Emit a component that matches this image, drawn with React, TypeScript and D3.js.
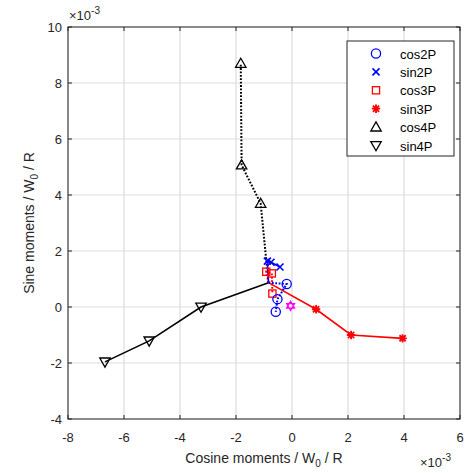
import React from 'react';
import * as d3 from 'd3';

// values in units of 1e-3
const origin: [number, number] = [-0.84, 0.87];
const cos2P: [number, number][] = [[-0.19, 0.82], [-0.52, 0.28], [-0.58, -0.17]];
const sin2P: [number, number][] = [[-0.88, 1.64], [-0.75, 1.6], [-0.43, 1.43]];
const cos3P: [number, number][] = [[-0.92, 1.26], [-0.72, 1.2], [-0.7, 0.48]];
const sin3P: [number, number][] = [[0.86, -0.08], [2.11, -1.0], [3.95, -1.12]];
const cos4P: [number, number][] = [[-1.12, 3.7], [-1.8, 5.07], [-1.83, 8.7]];
const sin4P: [number, number][] = [[-3.25, 0], [-5.1, -1.21], [-6.68, -1.96]];
const extra: [number, number][] = [[-0.05, 0.04]];

const xTicks = [-8, -6, -4, -2, 0, 2, 4, 6];
const yTicks = [-4, -2, 0, 2, 4, 6, 8, 10];
const legendNames = ['cos2P', 'sin2P', 'cos3P', 'sin3P', 'cos4P', 'sin4P'];

const W = 473;
const H = 473;
const L = 68, R = 460, T = 27, B = 419;
const font = 'Liberation Sans, Arial, Helvetica, sans-serif';

type Kind = 'o' | 'x' | 's' | '*' | '^' | 'v' | 'h';

const Marker = ({ kind, x, y, color }: { kind: Kind; x: number; y: number; color: string }) => {
	const sw = 1.3;
	if (kind === 'o') return <circle cx={ x } cy={ y } r={ 4.6 } fill="none" stroke={ color } strokeWidth={ sw }/>;
	if (kind === 's') return <rect x={ x - 3.6 } y={ y - 3.6 } width={ 7.2 } height={ 7.2 } fill="none" stroke={ color } strokeWidth={ sw }/>;
	if (kind === 'x') {
		const s = 3.5;
		return <path d={ `M${ x - s },${ y - s }L${ x + s },${ y + s }M${ x - s },${ y + s }L${ x + s },${ y - s }` } stroke={ color } strokeWidth={ 1.6 }/>;
	}
	if (kind === '*') {
		const s = 4.2, d = 3.1;
		return <path d={ `M${ x - s },${ y }L${ x + s },${ y }M${ x },${ y - s }L${ x },${ y + s }M${ x - d },${ y - d }L${ x + d },${ y + d }M${ x - d },${ y + d }L${ x + d },${ y - d }` } stroke={ color } strokeWidth={ 1.8 }/>;
	}
	if (kind === '^') {
		const s = 5.2;
		return <path d={ `M${ x },${ y - s }L${ x + s },${ y + s * 0.75 }L${ x - s },${ y + s * 0.75 }Z` } fill="none" stroke={ color } strokeWidth={ sw }/>;
	}
	if (kind === 'v') {
		const s = 5.2;
		return <path d={ `M${ x },${ y + s }L${ x + s },${ y - s * 0.75 }L${ x - s },${ y - s * 0.75 }Z` } fill="none" stroke={ color } strokeWidth={ sw }/>;
	}
	const s = 4.6;
	return <path d={ `M${ x },${ y - s }L${ x + s * 0.87 },${ y + s / 2 }L${ x - s * 0.87 },${ y + s / 2 }ZM${ x },${ y + s }L${ x + s * 0.87 },${ y - s / 2 }L${ x - s * 0.87 },${ y - s / 2 }Z` } fill="none" stroke={ color } strokeWidth={ 1.2 }/>;
};

const series: { name: string; data: [number, number][]; color: string; kind: Kind; dash: boolean }[] = [
	{ name: 'sin4P', data: sin4P, color: '#000', kind: 'v', dash: false },
	{ name: 'cos4P', data: cos4P, color: '#000', kind: '^', dash: true },
	{ name: 'sin3P', data: sin3P, color: '#ff0000', kind: '*', dash: false },
	{ name: 'cos3P', data: cos3P, color: '#ff0000', kind: 's', dash: true },
	{ name: 'sin2P', data: sin2P, color: '#0000ff', kind: 'x', dash: false },
	{ name: 'cos2P', data: cos2P, color: '#0000ff', kind: 'o', dash: true },
];

const legendStyle: Record<string, { color: string; kind: Kind }> = {
	cos2P: { color: '#0000ff', kind: 'o' },
	sin2P: { color: '#0000ff', kind: 'x' },
	cos3P: { color: '#ff0000', kind: 's' },
	sin3P: { color: '#ff0000', kind: '*' },
	cos4P: { color: '#000', kind: '^' },
	sin4P: { color: '#000', kind: 'v' },
};

const App = () => {
	const x = d3.scaleLinear().domain([-8, 6]).range([L, R]);
	const y = d3.scaleLinear().domain([-4, 10]).range([B, T]);
	const line = d3.line<[number, number]>().x((d) => x(d[0])).y((d) => y(d[1]));

	return (
		<svg width={ W } height={ H } style={ { position: 'absolute', left: 0, top: 0, background: '#fff' } } fontFamily={ font }>
			<rect x={ L } y={ T } width={ R - L } height={ B - T } fill="#fff"/>
			{ xTicks.map((t) => <line key={ `gx${ t }` } x1={ x(t) } x2={ x(t) } y1={ T } y2={ B } stroke="#dcdcdc" strokeWidth={ 1.2 }/>) }
			{ yTicks.map((t) => <line key={ `gy${ t }` } x1={ L } x2={ R } y1={ y(t) } y2={ y(t) } stroke="#dcdcdc" strokeWidth={ 1.2 }/>) }
			{ series.map((s) => (
				<path key={ `l${ s.name }` } d={ line([origin, ...s.data]) ?? '' } fill="none" stroke={ s.color }
					strokeWidth={ s.dash ? 2 : 1.6 } strokeDasharray={ s.dash ? '1.8 1.6' : undefined }/>
			)) }
			{ series.map((s) => s.data.map((d, i) => (
				<Marker key={ `m${ s.name }${ i }` } kind={ s.kind } x={ x(d[0]) } y={ y(d[1]) } color={ s.color }/>
			))) }
			{ extra.map((d, i) => <Marker key={ `e${ i }` } kind="h" x={ x(d[0]) } y={ y(d[1]) } color="#ff00ff"/>) }
			<rect x={ L } y={ T } width={ R - L } height={ B - T } fill="none" stroke="#262626" strokeWidth={ 1 }/>
			{ xTicks.map((t) => (
				<g key={ `tx${ t }` }>
					<line x1={ x(t) } x2={ x(t) } y1={ B } y2={ B - 4 } stroke="#262626"/>
					<line x1={ x(t) } x2={ x(t) } y1={ T } y2={ T + 4 } stroke="#262626"/>
					<text x={ x(t) } y={ B + 23 } textAnchor="middle" fontSize={ 13 } fill="#262626">{ t }</text>
				</g>
			)) }
			{ yTicks.map((t) => (
				<g key={ `ty${ t }` }>
					<line x1={ L } x2={ L + 4 } y1={ y(t) } y2={ y(t) } stroke="#262626"/>
					<line x1={ R } x2={ R - 4 } y1={ y(t) } y2={ y(t) } stroke="#262626"/>
					<text x={ L - 6 } y={ y(t) + 5 } textAnchor="end" fontSize={ 13 } fill="#262626">{ t }</text>
				</g>
			)) }
			<text x={ 69 } y={ 20 } fontSize={ 13 } fill="#262626">
				{ '\u00d710' }<tspan dy={ -6 } fontSize={ 10 }>-3</tspan>
			</text>
			<text x={ 420 } y={ 467 } fontSize={ 13 } fill="#262626">
				{ '\u00d710' }<tspan dy={ -6 } fontSize={ 10 }>-3</tspan>
			</text>
			<text x={ (L + R) / 2 } y={ 463 } textAnchor="middle" fontSize={ 14 } fill="#262626">
				Cosine moments / W<tspan dy={ 4 } fontSize={ 10 }>0</tspan><tspan dy={ -4 }> / R</tspan>
			</text>
			<text transform={ `translate(34,${ (T + B) / 2 }) rotate(-90)` } textAnchor="middle" fontSize={ 14 } fill="#262626">
				Sine moments / W<tspan dy={ 4 } fontSize={ 10 }>0</tspan><tspan dy={ -4 }> / R</tspan>
			</text>
			<rect x={ 347 } y={ 41 } width={ 107 } height={ 115 } fill="#fff" stroke="#262626" strokeWidth={ 1 }/>
			{ legendNames.map((n, i) => {
				const cy = 53.5 + i * 18.4;
				return (
					<g key={ `lg${ n }` }>
						<Marker kind={ legendStyle[n].kind } x={ 376 } y={ cy } color={ legendStyle[n].color }/>
						<text x={ 400 } y={ cy + 5 } fontSize={ 13 } fill="#000">{ n }</text>
					</g>
				);
			}) }
		</svg>
	);
};

export default App;
